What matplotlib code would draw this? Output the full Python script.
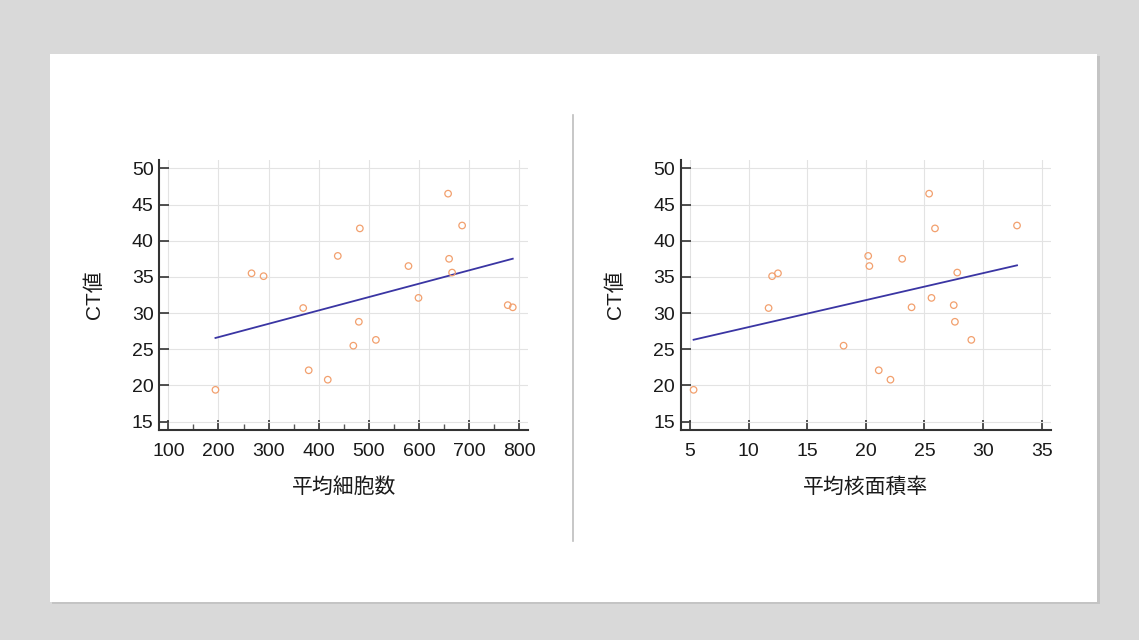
import numpy as np
import matplotlib
matplotlib.use('Agg')
from matplotlib import pyplot as plt
from matplotlib import patches
from matplotlib.lines import Line2D
from matplotlib.ticker import MultipleLocator

plt.rcParams['font.family'] = ['Liberation Sans', 'Noto Sans CJK JP']

# CT values, shared by both panels
ct = [19.4, 35.5, 35.1, 30.7, 22.1, 20.8, 37.9, 41.7, 28.8, 25.5,
      26.3, 36.5, 32.1, 46.5, 37.5, 35.6, 42.1, 31.1, 30.8]
# mean cell count
cells = [194, 266, 290, 369, 380, 418, 438, 482, 480, 469,
         514, 579, 599, 658, 660, 666, 686, 777, 787]
# mean nuclear area ratio
nuc = [5.3, 12.5, 12.0, 11.7, 21.1, 22.1, 20.2, 25.9, 27.6, 18.1,
       29.0, 20.3, 25.6, 25.4, 23.1, 27.8, 32.9, 27.5, 23.9]

W, H = 1139, 640
fig = plt.figure(figsize=(W / 100, H / 100), dpi=100, facecolor='#d9d9d9')

# slide card with a soft shadow
fig.patches.append(patches.Rectangle((52 / W, 1 - 604 / H), 1048 / W, 548 / H,
                                     transform=fig.transFigure, facecolor='#c4c4c4',
                                     edgecolor='none', zorder=-3))
fig.patches.append(patches.Rectangle((50 / W, 1 - 602 / H), 1047 / W, 548 / H,
                                     transform=fig.transFigure, facecolor='white',
                                     edgecolor='none', zorder=-2))
fig.lines.append(Line2D([573 / W, 573 / W], [1 - 115 / H, 1 - 541 / H],
                        transform=fig.transFigure, color='#bdbdbd', lw=1.2, zorder=-1))


def panel(rect, x, y, xlim, xmajor, xminor, xlabel):
    ax = fig.add_axes(rect)
    ax.set_zorder(1)
    ax.set_facecolor('none')
    ax.scatter(x, y, s=22, facecolors='none', edgecolors='#f2a06e', linewidths=0.9, zorder=3)
    k, b = np.polyfit(x, y, 1)
    xs = np.array([min(x), max(x)])
    ax.plot(xs, k * xs + b, color='#3a35a3', lw=1.3, zorder=2)
    ax.set_xlim(*xlim)
    ax.set_ylim(13.85, 51.15)
    ax.xaxis.set_major_locator(MultipleLocator(xmajor))
    if xminor:
        ax.xaxis.set_minor_locator(MultipleLocator(xminor))
    ax.yaxis.set_major_locator(MultipleLocator(5))
    ax.grid(True, color='#e3e3e3', lw=0.8)
    ax.set_axisbelow(True)
    for s in ['top', 'right']:
        ax.spines[s].set_visible(False)
    for s in ['left', 'bottom']:
        ax.spines[s].set_color('#333333')
        ax.spines[s].set_linewidth(1.5)
    ax.tick_params(axis='both', which='major', direction='in', length=7, width=1.2,
                   color='#333333', labelsize=14, labelcolor='#1a1a1a')
    ax.tick_params(axis='x', which='major', pad=9)
    ax.tick_params(axis='y', which='major', pad=4)
    ax.tick_params(axis='x', which='minor', direction='in', length=4, width=1.0, color='#555555')
    ax.set_xlabel(xlabel, fontsize=15, labelpad=13, color='#1a1a1a')
    ax.set_ylabel('CT値', fontsize=15, labelpad=20, color='#1a1a1a')
    return ax


panel([159.3 / W, 1 - 430 / H, 369 / W, 270 / H], cells, ct,
      (82, 818), 100, 50, '平均細胞数')
panel([680.7 / W, 1 - 430 / H, 370.3 / W, 270 / H], nuc, ct,
      (4.2, 35.8), 5, None, '平均核面積率')

fig.savefig('out.png', dpi=100, facecolor=fig.get_facecolor())
